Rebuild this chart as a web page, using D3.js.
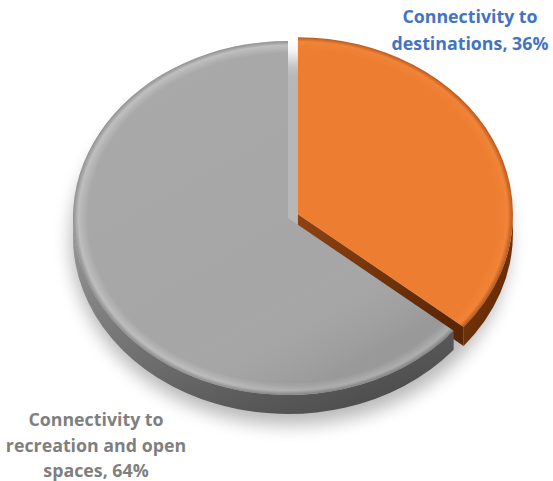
<!DOCTYPE html>
<html>
<head>
<meta charset="utf-8">
<script src="https://cdn.jsdelivr.net/npm/d3@7"></script>
<style>
  html, body { margin: 0; padding: 0; background: #ffffff; }
  svg { display: block; }
</style>
</head>
<body>
<svg id="chart" width="553" height="481"></svg>
<script>
// Share of connectivity types (percent)
const categories = ["Connectivity to destinations", "Connectivity to recreation and open spaces"];
const values = [36, 64];
// Label line breaks for each category (value appended to the last line)
const labelLines = [
  ["Connectivity to", "destinations"],
  ["Connectivity to", "recreation and open", "spaces"]
];
const topColors = ["#ED7D31", "#A6A6A6"];
const sideColorsLight = ["#8E4412", "#9A9A9A"];
const sideColorsDark = ["#5A2606", "#4E4E4E"];
const labelColors = ["#4472C4", "#7F7F7F"];

const W = 553, H = 481;
const cx = 288, cy = 218;
const R = 215;               // horizontal radius
const tilt = 177 / 215;      // vertical squash of the tilted disc
const depth = 19 / tilt;     // thickness in unscaled units
const explode = [11, 0];     // how far each slice is pulled out

const svg = d3.select("#chart");
const defs = svg.append("defs");

// soft drop shadow
const blur = defs.append("filter").attr("id", "shadowBlur")
  .attr("x", "-20%").attr("y", "-20%").attr("width", "140%").attr("height", "140%");
blur.append("feGaussianBlur").attr("stdDeviation", 9);

// top face gradients: flat colour with a bevelled rim
function topGradient(id, base, hi, edge) {
  const g = defs.append("radialGradient").attr("id", id)
    .attr("gradientUnits", "userSpaceOnUse")
    .attr("cx", 0).attr("cy", 0).attr("r", R);
  g.append("stop").attr("offset", 0).attr("stop-color", base);
  g.append("stop").attr("offset", 0.93).attr("stop-color", base);
  g.append("stop").attr("offset", 0.975).attr("stop-color", hi);
  g.append("stop").attr("offset", 1).attr("stop-color", edge);
}
topGradient("top0", topColors[0], "#F08438", "#B9581C");
topGradient("top1", topColors[1], "#BDBDBD", "#8C8C8C");

// side gradients
values.forEach((v, i) => {
  const g = defs.append("linearGradient").attr("id", "side" + i)
    .attr("x1", 0).attr("y1", 0).attr("x2", 0.7).attr("y2", 1);
  g.append("stop").attr("offset", 0).attr("stop-color", sideColorsLight[i]);
  g.append("stop").attr("offset", 1).attr("stop-color", sideColorsDark[i]);
});

// lighting overlay on the grey top: brighter upper-left, darker toward the rim below
const light = defs.append("linearGradient").attr("id", "light")
  .attr("x1", 0).attr("y1", 0).attr("x2", 0.6).attr("y2", 1);
light.append("stop").attr("offset", 0).attr("stop-color", "#ffffff").attr("stop-opacity", 0.04);
light.append("stop").attr("offset", 0.75).attr("stop-color", "#ffffff").attr("stop-opacity", 0);
light.append("stop").attr("offset", 1).attr("stop-color", "#000000").attr("stop-opacity", 0.08);

const pie = d3.pie().sort(null).value(d => d);
const arcs = pie(values);
const arc = d3.arc().innerRadius(0).outerRadius(R);

// shadow under the disc
svg.append("ellipse")
  .attr("cx", cx + 2).attr("cy", cy + 24)
  .attr("rx", R + 4).attr("ry", R * tilt + 6)
  .attr("fill", "#000").attr("opacity", 0.28)
  .attr("filter", "url(#shadowBlur)");

const disc = svg.append("g")
  .attr("transform", `translate(${cx},${cy}) scale(1,${tilt})`);

const pt = a => [R * Math.sin(a), -R * Math.cos(a)];

function sidePath(a0, a1) {
  // outer rim portion facing the viewer (angles between pi/2 and 3pi/2)
  const s = Math.max(a0, Math.PI / 2), e = Math.min(a1, 3 * Math.PI / 2);
  if (e <= s) return null;
  const [x0, y0] = pt(s), [x1, y1] = pt(e);
  const large = (e - s) > Math.PI ? 1 : 0;
  return `M${x0},${y0}A${R},${R} 0 ${large} 1 ${x1},${y1}` +
         `L${x1},${y1 + depth}A${R},${R} 0 ${large} 0 ${x0},${y0 + depth}Z`;
}
function endFacePath(a) {
  const [x, y] = pt(a);
  return `M0,0L${x},${y}L${x},${y + depth}L0,${depth}Z`;
}

arcs.forEach((d, i) => {
  const mid = (d.startAngle + d.endAngle) / 2;
  const [ox, oy] = [explode[i] * Math.sin(mid), -explode[i] * Math.cos(mid)];
  const g = disc.append("g").attr("transform", `translate(${ox},${oy})`);

  // cut face at the slice end when it faces downward
  const n = d.endAngle + Math.PI / 2;
  if (-Math.cos(n) > 0.01) {
    g.append("path").attr("d", endFacePath(d.endAngle)).attr("fill", `url(#side${i})`);
  }
  const sp = sidePath(d.startAngle, d.endAngle);
  if (sp) g.append("path").attr("d", sp).attr("fill", `url(#side${i})`);

  g.append("path").attr("d", arc(d)).attr("fill", `url(#top${i})`);
  if (i === 1) g.append("path").attr("d", arc(d)).attr("fill", "url(#light)");
});

// labels
const labelPos = [
  { x: 470, y: 23 },
  { x: 96, y: 426 }
];
const lineH = [27, 25.5];
labelLines.forEach((lines, i) => {
  const txt = lines.slice();
  txt[txt.length - 1] = txt[txt.length - 1] + ", " + values[i] + "%";
  const t = svg.append("text")
    .attr("x", labelPos[i].x).attr("y", labelPos[i].y)
    .attr("text-anchor", "middle")
    .attr("font-family", "'Open Sans', sans-serif")
    .attr("font-weight", 700)
    .attr("font-size", 17.8)
    .attr("fill", labelColors[i]);
  txt.forEach((s, j) => {
    t.append("tspan").attr("x", labelPos[i].x).attr("y", labelPos[i].y + j * lineH[i]).text(s);
  });
});
</script>
</body>
</html>
